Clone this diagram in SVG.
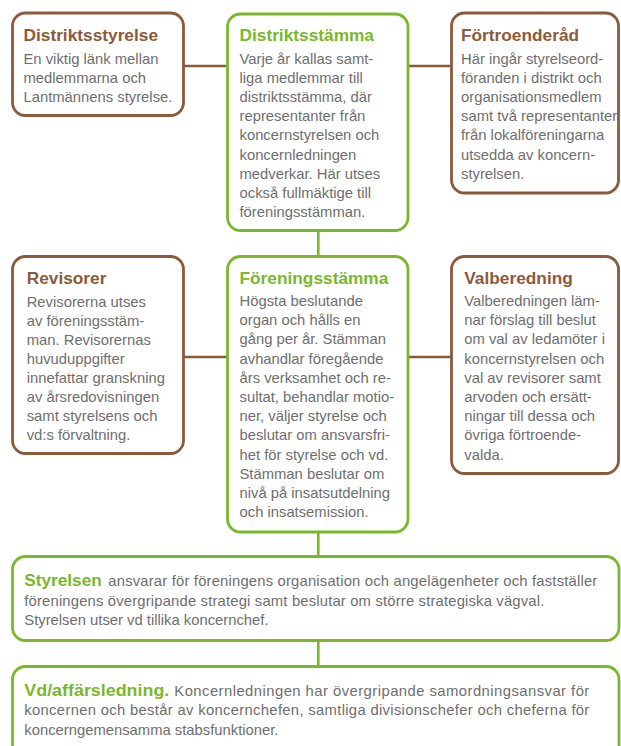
<svg xmlns="http://www.w3.org/2000/svg" width="621" height="746" viewBox="0 0 621 746">
  <style>
    .bg { fill: #ffffff; }
    .box { fill: #ffffff; stroke-width: 2.8; }
    .brown { stroke: #8c5a3a; }
    .green { stroke: #7ab82a; }
    .link { fill: none; stroke-width: 2.6; }
    .title { font-family: "Liberation Sans", Arial, Helvetica, sans-serif; font-size: 17.3px; font-weight: bold; }
    .t-brown { fill: #8c5a3a; }
    .t-green { fill: #7ab82a; }
    .body { font-family: "Liberation Sans", Arial, Helvetica, sans-serif; font-size: 14.8px; fill: #6e6e6e; }
  </style>

  <rect class="bg" x="0" y="0" width="621" height="746"/>

  <!-- connectors -->
  <g id="connectors">
    <line class="link brown" x1="184" y1="66" x2="227" y2="66"/>
    <line class="link brown" x1="408" y1="66" x2="451" y2="66"/>
    <line class="link green" x1="318.3" y1="231" x2="318.3" y2="256"/>
    <line class="link brown" x1="184" y1="357" x2="227" y2="357"/>
    <line class="link brown" x1="408" y1="357" x2="451" y2="357"/>
    <line class="link green" x1="318.3" y1="532" x2="318.3" y2="556"/>
    <line class="link green" x1="318.3" y1="640" x2="318.3" y2="667"/>
  </g>

  <!-- district board -->
  <g id="distriktsstyrelse">
    <rect class="box brown" x="12.5" y="13" width="171" height="102.5" rx="13"/>
    <text class="title t-brown" x="23.5" y="40.7">Distriktsstyrelse</text>
    <text class="body">
      <tspan x="23.5" y="64">En viktig länk mellan</tspan>
      <tspan x="23.5" y="83.2">medlemmarna och</tspan>
      <tspan x="23.5" y="102.4">Lantmännens styrelse.</tspan>
    </text>
  </g>

  <!-- district meeting -->
  <g id="distriktsstamma">
    <rect class="box green" x="227.5" y="14" width="180.5" height="216.5" rx="13"/>
    <text class="title t-green" x="239.5" y="40.7">Distriktsstämma</text>
    <text class="body">
      <tspan x="239.5" y="64">Varje år kallas samt-</tspan>
      <tspan x="239.5" y="83.1">liga medlemmar till</tspan>
      <tspan x="239.5" y="102.2">distriktsstämma, där</tspan>
      <tspan x="239.5" y="121.3">representanter från</tspan>
      <tspan x="239.5" y="140.4">koncernstyrelsen och</tspan>
      <tspan x="239.5" y="159.5">koncernledningen</tspan>
      <tspan x="239.5" y="178.6">medverkar. Här utses</tspan>
      <tspan x="239.5" y="197.7">också fullmäktige till</tspan>
      <tspan x="239.5" y="216.8">föreningsstämman.</tspan>
    </text>
  </g>

  <!-- council of trust -->
  <g id="fortroenderad">
    <rect class="box brown" x="451.5" y="13" width="167" height="180" rx="13"/>
    <text class="title t-brown" x="461" y="40.7">Förtroenderåd</text>
    <text class="body">
      <tspan x="461" y="64">Här ingår styrelseord-</tspan>
      <tspan x="461" y="83.1">föranden i distrikt och</tspan>
      <tspan x="461" y="102.2">organisationsmedlem</tspan>
      <tspan x="461" y="121.3">samt två representanter</tspan>
      <tspan x="461" y="140.4">från lokalföreningarna</tspan>
      <tspan x="461" y="159.5">utsedda av koncern-</tspan>
      <tspan x="461" y="178.6">styrelsen.</tspan>
    </text>
  </g>

  <!-- auditors -->
  <g id="revisorer">
    <rect class="box brown" x="12.5" y="256.5" width="171" height="197" rx="13"/>
    <text class="title t-brown" x="26.7" y="284.3">Revisorer</text>
    <text class="body">
      <tspan x="26.7" y="306.5">Revisorerna utses</tspan>
      <tspan x="26.7" y="325.6">av föreningsstäm-</tspan>
      <tspan x="26.7" y="344.7">man. Revisorernas</tspan>
      <tspan x="26.7" y="363.8">huvuduppgifter</tspan>
      <tspan x="26.7" y="382.9">innefattar granskning</tspan>
      <tspan x="26.7" y="402">av årsredovisningen</tspan>
      <tspan x="26.7" y="421.1">samt styrelsens och</tspan>
      <tspan x="26.7" y="440.2">vd:s förvaltning.</tspan>
    </text>
  </g>

  <!-- general meeting -->
  <g id="foreningsstamma">
    <rect class="box green" x="227.5" y="256.5" width="180.5" height="275.5" rx="13"/>
    <text class="title t-green" x="239.5" y="284.3">Föreningsstämma</text>
    <text class="body">
      <tspan x="239.5" y="306">Högsta beslutande</tspan>
      <tspan x="239.5" y="325.2">organ och hålls en</tspan>
      <tspan x="239.5" y="344.4">gång per år. Stämman</tspan>
      <tspan x="239.5" y="363.6">avhandlar föregående</tspan>
      <tspan x="239.5" y="382.8">års verksamhet och re-</tspan>
      <tspan x="239.5" y="402">sultat, behandlar motio-</tspan>
      <tspan x="239.5" y="421.2">ner, väljer styrelse och</tspan>
      <tspan x="239.5" y="440.4">beslutar om ansvarsfri-</tspan>
      <tspan x="239.5" y="459.6">het för styrelse och vd.</tspan>
      <tspan x="239.5" y="478.8">Stämman beslutar om</tspan>
      <tspan x="239.5" y="498">nivå på insatsutdelning</tspan>
      <tspan x="239.5" y="517.2">och insatsemission.</tspan>
    </text>
  </g>

  <!-- nomination committee -->
  <g id="valberedning">
    <rect class="box brown" x="451.5" y="256.5" width="167" height="217" rx="13"/>
    <text class="title t-brown" x="464.3" y="284.3">Valberedning</text>
    <text class="body">
      <tspan x="464.3" y="306">Valberedningen läm-</tspan>
      <tspan x="464.3" y="325.2">nar förslag till beslut</tspan>
      <tspan x="464.3" y="344.4">om val av ledamöter i</tspan>
      <tspan x="464.3" y="363.6">koncernstyrelsen och</tspan>
      <tspan x="464.3" y="382.8">val av revisorer samt</tspan>
      <tspan x="464.3" y="402">arvoden och ersätt-</tspan>
      <tspan x="464.3" y="421.2">ningar till dessa och</tspan>
      <tspan x="464.3" y="440.4">övriga förtroende-</tspan>
      <tspan x="464.3" y="459.6">valda.</tspan>
    </text>
  </g>

  <!-- board of directors -->
  <g id="styrelsen">
    <rect class="box green" x="12.5" y="556.5" width="606.5" height="84" rx="13"/>
    <text class="title t-green" x="24.3" y="586" textLength="77.4" lengthAdjust="spacingAndGlyphs">Styrelsen</text>
    <text class="body" x="108.3" y="586" textLength="489" lengthAdjust="spacing">ansvarar för föreningens organisation och angelägenheter och fastställer</text>
    <text class="body" x="24.3" y="605.5" textLength="520" lengthAdjust="spacing">föreningens övergripande strategi samt beslutar om större strategiska vägval.</text>
    <text class="body" x="24.3" y="625">Styrelsen utser vd tillika koncernchef.</text>
  </g>

  <!-- executive management -->
  <g id="vd-affarsledning">
    <rect class="box green" x="12.5" y="666.5" width="606.5" height="110" rx="13"/>
    <text class="title t-green" x="24.3" y="696" textLength="145" lengthAdjust="spacingAndGlyphs">Vd/affärsledning.</text>
    <text class="body" x="174.3" y="696" textLength="415" lengthAdjust="spacing">Koncernledningen har övergripande samordningsansvar för</text>
    <text class="body" x="24.3" y="715.3" textLength="565" lengthAdjust="spacing">koncernen och består av koncernchefen, samtliga divisionschefer och cheferna för</text>
    <text class="body" x="24.3" y="734.6">koncerngemensamma stabsfunktioner.</text>
  </g>
</svg>
